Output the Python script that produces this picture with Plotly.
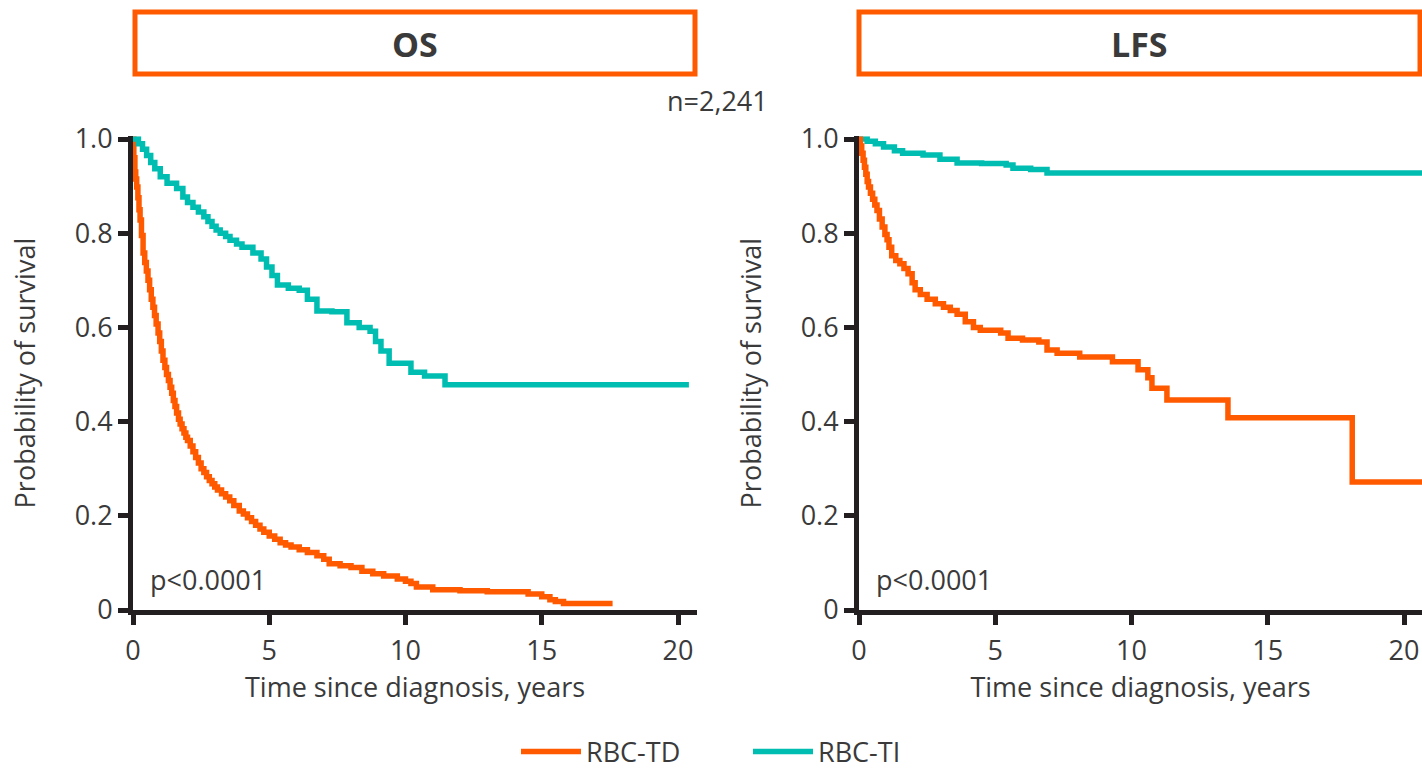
import plotly.graph_objects as go

# ---- Kaplan-Meier estimates (time in years, survival probability) ----
# Overall survival, transfusion-dependent
os_td_t = [0, 0.03, 0.07, 0.1, 0.135, 0.18, 0.22, 0.26, 0.31, 0.37, 0.43, 0.49, 0.55, 0.61,
           0.67, 0.73, 0.79, 0.85, 0.92, 0.98, 1.04, 1.1, 1.17, 1.23, 1.3, 1.36, 1.42, 1.48,
           1.54, 1.6, 1.67, 1.73, 1.8, 1.87, 1.94, 2.0, 2.1, 2.2, 2.3, 2.4, 2.5, 2.6, 2.7, 2.8,
           2.9, 3.0, 3.1, 3.25, 3.4, 3.55, 3.7, 3.9, 4.05, 4.2, 4.35, 4.5, 4.66, 4.8, 5.0, 5.2,
           5.4, 5.6, 5.8, 6.1, 6.4, 6.75, 7.0, 7.2, 7.6, 8.0, 8.4, 8.8, 9.2, 9.7, 10.0, 10.2,
           10.4, 11.0, 12.0, 13.0, 14.5, 15.0, 15.3, 15.5, 15.8, 17.6]
os_td_s = [1.0, 0.96, 0.93, 0.915, 0.898, 0.875, 0.85, 0.828, 0.795, 0.758, 0.738, 0.72, 0.70,
           0.68, 0.66, 0.643, 0.625, 0.607, 0.588, 0.57, 0.55, 0.53, 0.515, 0.50, 0.487, 0.473,
           0.46, 0.445, 0.432, 0.418, 0.405, 0.395, 0.385, 0.376, 0.367, 0.36, 0.348, 0.336,
           0.324, 0.312, 0.30, 0.292, 0.283, 0.275, 0.268, 0.261, 0.255, 0.247, 0.24, 0.232,
           0.222, 0.21, 0.204, 0.196, 0.188, 0.18, 0.172, 0.165, 0.157, 0.15, 0.143, 0.138,
           0.134, 0.128, 0.122, 0.115, 0.108, 0.098, 0.094, 0.09, 0.082, 0.077, 0.072, 0.066,
           0.061, 0.056, 0.049, 0.043, 0.041, 0.039, 0.034, 0.028, 0.022, 0.018, 0.014, 0.014]

# Overall survival, transfusion-independent
os_ti_t = [0, 0.2, 0.35, 0.5, 0.65, 0.8, 1.0, 1.25, 1.6, 1.83, 2.0, 2.2, 2.4, 2.6, 2.75, 2.9,
           3.05, 3.2, 3.4, 3.56, 3.8, 4.0, 4.4, 4.7, 4.9, 5.1, 5.3, 5.7, 6.1, 6.4, 6.75, 7.3,
           7.85, 8.3, 8.7, 8.9, 9.1, 9.4, 10.2, 10.7, 11.45, 20.4]
os_ti_s = [1.0, 0.99, 0.978, 0.965, 0.95, 0.937, 0.92, 0.906, 0.895, 0.877, 0.865, 0.855,
           0.845, 0.835, 0.825, 0.815, 0.807, 0.80, 0.793, 0.785, 0.777, 0.77, 0.758, 0.745,
           0.728, 0.71, 0.69, 0.683, 0.679, 0.66, 0.635, 0.633, 0.61, 0.60, 0.592, 0.57, 0.55,
           0.524, 0.505, 0.497, 0.478, 0.478]

# Leukemia-free survival, transfusion-dependent
lfs_td_t = [0, 0.05, 0.1, 0.15, 0.2, 0.25, 0.3, 0.35, 0.42, 0.5, 0.58, 0.66, 0.75, 0.85, 0.95,
            1.03, 1.1, 1.2, 1.35, 1.5, 1.65, 1.8, 1.95, 2.06, 2.25, 2.5, 2.8, 3.1, 3.35, 3.6,
            3.9, 4.2, 4.45, 5.2, 5.47, 6.0, 6.6, 6.9, 7.27, 8.1, 9.3, 10.24, 10.6, 10.75, 11.3,
            13.54, 18.1, 20.7]
lfs_td_s = [1.0, 0.985, 0.97, 0.955, 0.94, 0.925, 0.91, 0.898, 0.885, 0.872, 0.86, 0.848,
            0.83, 0.813, 0.797, 0.786, 0.77, 0.752, 0.742, 0.735, 0.725, 0.714, 0.695, 0.68,
            0.67, 0.66, 0.65, 0.643, 0.636, 0.628, 0.612, 0.60, 0.594, 0.588, 0.577, 0.573,
            0.569, 0.552, 0.545, 0.537, 0.527, 0.51, 0.493, 0.471, 0.446, 0.408, 0.272, 0.272]

# Leukemia-free survival, transfusion-independent
lfs_ti_t = [0, 0.3, 0.6, 0.9, 1.3, 1.6, 2.35, 2.97, 3.6, 4.5, 5.4, 5.65, 6.3, 6.9, 20.7]
lfs_ti_s = [1.0, 0.995, 0.99, 0.983, 0.975, 0.97, 0.966, 0.957, 0.949, 0.948, 0.945, 0.938,
            0.935, 0.928, 0.928]

group_names = ["RBC-TD", "RBC-TI"]
panel_titles = ["OS", "LFS"]
x_ticks = [0, 5, 10, 15, 20]
y_ticks = [0, 0.2, 0.4, 0.6, 0.8, 1.0]
y_tick_text = ["0", "0.2", "0.4", "0.6", "0.8", "1.0"]
p_text = "p<0.0001"
n_text = "n=2,241"

ORANGE = "#FF5A00"
TEAL = "#00BDB1"
AXIS = "#231F20"
TEXT = "#3A3A3A"
FONT = "Open Sans"
FS = 27

W, H = 1422, 769
X_MAX = 20.7
Y_MAX = 1.006
PX_PER_YEAR = 27.25
PX_PER_UNIT = 471.0
Y0_PX = 610.0


def px_x(p):
    return p / W


def px_y(p):
    return 1 - p / H


y_dom = [px_y(Y0_PX), px_y(Y0_PX - PX_PER_UNIT * Y_MAX)]

fig = go.Figure()

series = [
    (os_td_t, os_td_s, ORANGE, group_names[0], "x", "y", True),
    (os_ti_t, os_ti_s, TEAL, group_names[1], "x", "y", True),
    (lfs_ti_t, lfs_ti_s, TEAL, group_names[1], "x2", "y2", False),
    (lfs_td_t, lfs_td_s, ORANGE, group_names[0], "x2", "y2", False),
]
for t, s, col, name, xa, ya, show in series:
    fig.add_trace(go.Scatter(
        x=t, y=s, mode="lines", name=name, legendgroup=name, showlegend=show,
        line=dict(color=col, width=5.5, shape="hv"), xaxis=xa, yaxis=ya,
    ))

axis_common = dict(
    showgrid=False, zeroline=False, showline=True, linecolor=AXIS, linewidth=5,
    ticks="outside", ticklen=10, tickwidth=5, tickcolor=AXIS, automargin=False,
    tickfont=dict(family=FONT, size=FS, color=TEXT),
    title_font=dict(family=FONT, size=FS, color=TEXT),
)
x_extra = dict(ticklabelstandoff=3, title=dict(text="Time since diagnosis, years", standoff=12))
y_extra = dict(tickvals=y_ticks, ticktext=y_tick_text, range=[0, Y_MAX], domain=y_dom,
               title=dict(text="Probability of survival", standoff=33))

x_left = [px_x(133), px_x(133 + PX_PER_YEAR * X_MAX)]
x_right = [px_x(859), 1.0]

fig.update_layout(
    width=W, height=H,
    margin=dict(l=0, r=0, t=0, b=0, autoexpand=False),
    paper_bgcolor="white", plot_bgcolor="white",
    font=dict(family=FONT, color=TEXT),
    xaxis=dict(domain=x_left, range=[0, X_MAX], tickvals=x_ticks, anchor="y",
               **x_extra, **axis_common),
    yaxis=dict(anchor="x", **y_extra, **axis_common),
    xaxis2=dict(domain=x_right, range=[0, (W - 859) / PX_PER_YEAR], tickvals=x_ticks,
                anchor="y2", **x_extra, **axis_common),
    yaxis2=dict(anchor="x2", **y_extra, **axis_common),
    legend=dict(orientation="h", x=px_x(748), xanchor="center", y=px_y(752), yanchor="middle",
                font=dict(family=FONT, size=FS, color=TEXT),
                entrywidth=157, entrywidthmode="pixels", itemwidth=60),
)

# Panel title boxes
boxes = [(135, 695), (859, 1420)]
for (bx0, bx1), title in zip(boxes, panel_titles):
    fig.add_shape(type="rect", xref="paper", yref="paper",
                  x0=px_x(bx0), x1=px_x(bx1), y0=px_y(74), y1=px_y(12),
                  line=dict(color=ORANGE, width=5), fillcolor="white", layer="above")
    fig.add_annotation(xref="paper", yref="paper", x=px_x((bx0 + bx1) / 2), y=px_y(44),
                       text=f"<b>{title}</b>", showarrow=False,
                       font=dict(family=FONT, size=34, color=TEXT),
                       xanchor="center", yanchor="middle")

# p-values
for xr, yr in [("x", "y"), ("x2", "y2")]:
    fig.add_annotation(xref=xr, yref=yr, x=0.55, y=0.065, text=p_text, showarrow=False,
                       xanchor="left", yanchor="middle",
                       font=dict(family=FONT, size=FS, color=TEXT))

fig.add_annotation(xref="paper", yref="paper", x=px_x(770), y=px_y(100), text=n_text,
                   showarrow=False, xanchor="right", yanchor="middle",
                   font=dict(family=FONT, size=FS, color=TEXT))

fig.write_html("out.html")
